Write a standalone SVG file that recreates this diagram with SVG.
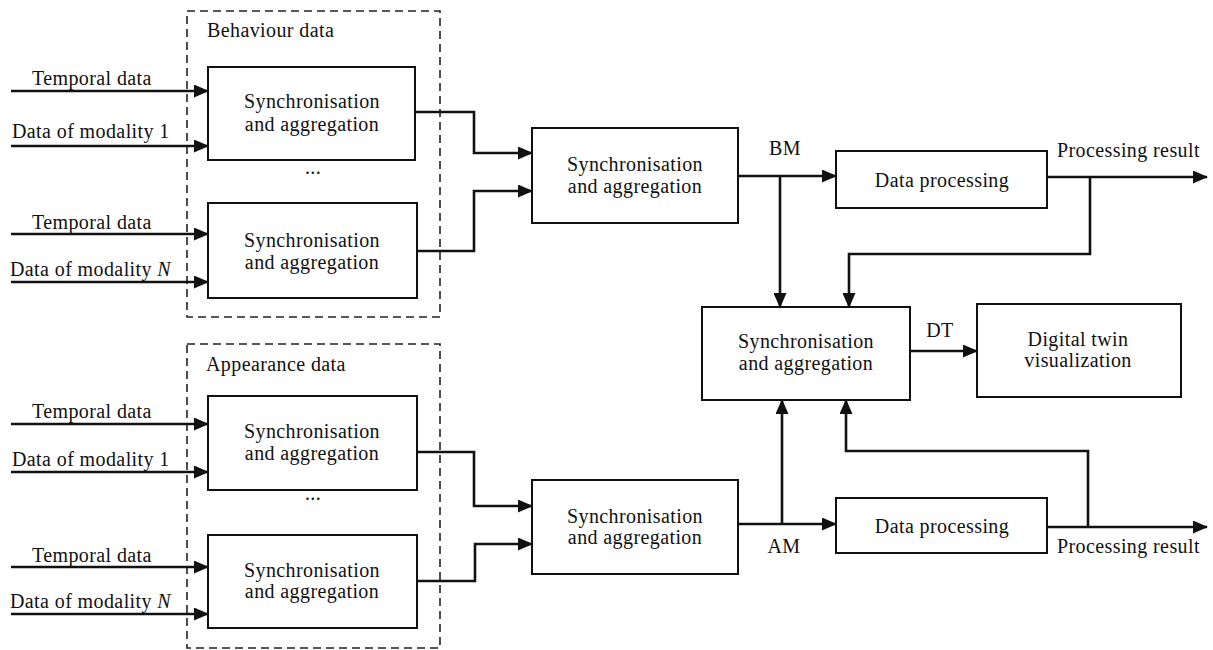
<svg xmlns="http://www.w3.org/2000/svg" width="1213" height="650" viewBox="0 0 1213 650">
<defs>
<style>
text{font-family:"Liberation Serif","Times New Roman",serif;font-size:20px;fill:#111;letter-spacing:0.4px}
.c{text-anchor:middle}
.box{fill:#fff;stroke:#111;stroke-width:2}
.dash{fill:none;stroke:#222;stroke-width:1.6;stroke-dasharray:8 5}
.ln{fill:none;stroke:#111;stroke-width:2.6}
.ar{fill:none;stroke:#111;stroke-width:2.6;marker-end:url(#ah)}
</style>
<marker id="ah" markerUnits="userSpaceOnUse" markerWidth="15" markerHeight="13" refX="14" refY="6.5" orient="auto" viewBox="0 0 15 13">
<path d="M0,0 L15,6.5 L0,13 z" fill="#111"/>
</marker>
</defs>
<rect width="1213" height="650" fill="#fff"/>

<g id="behaviour-group">
<rect class="dash" x="187" y="11" width="253" height="306"/>
<text x="207" y="37">Behaviour data</text>
</g>
<g id="appearance-group">
<rect class="dash" x="187" y="344" width="253" height="304"/>
<text x="206" y="371">Appearance data</text>
</g>

<g id="connectors">
<line class="ar" x1="11" y1="91" x2="208" y2="91"/>
<line class="ar" x1="11" y1="146" x2="208" y2="146"/>
<line class="ar" x1="11" y1="234" x2="208" y2="234"/>
<line class="ar" x1="11" y1="282" x2="208" y2="282"/>
<line class="ar" x1="11" y1="424" x2="208" y2="424"/>
<line class="ar" x1="11" y1="472" x2="208" y2="472"/>
<line class="ar" x1="11" y1="567" x2="208" y2="567"/>
<line class="ar" x1="11" y1="614" x2="208" y2="614"/>
<polyline class="ar" points="415,112 474,112 474,153 532,153"/>
<polyline class="ar" points="417,251 474,251 474,191 532,191"/>
<polyline class="ar" points="417,452 474,452 474,506 532,506"/>
<polyline class="ar" points="417,581 475,581 475,544 532,544"/>
<line class="ar" x1="738" y1="176" x2="836" y2="176"/>
<line class="ar" x1="780" y1="176" x2="780" y2="307"/>
<line class="ar" x1="738" y1="524" x2="836" y2="524"/>
<line class="ar" x1="782" y1="524" x2="782" y2="400"/>
<line class="ar" x1="1047" y1="177" x2="1207" y2="177"/>
<polyline class="ar" points="1090,177 1090,254 849,254 849,307"/>
<line class="ar" x1="1047" y1="527" x2="1207" y2="527"/>
<polyline class="ar" points="1088,527 1088,451 846,451 846,400"/>
<line class="ar" x1="910" y1="351" x2="977" y2="351"/>
</g>

<g id="labels">
<text x="32" y="85">Temporal data</text>
<text x="12" y="138">Data of modality 1</text>
<text x="32" y="229">Temporal data</text>
<text x="10" y="276">Data of modality <tspan font-style="italic">N</tspan></text>
<text x="32" y="418">Temporal data</text>
<text x="12" y="466">Data of modality 1</text>
<text x="32" y="562">Temporal data</text>
<text x="10" y="608">Data of modality <tspan font-style="italic">N</tspan></text>
<text class="c" x="313" y="174">...</text>
<text class="c" x="313" y="500">...</text>
<text class="c" x="785" y="155">BM</text>
<text class="c" x="784" y="553">AM</text>
<text class="c" x="940" y="337">DT</text>
<text x="1057" y="157">Processing result</text>
<text x="1057" y="553">Processing result</text>
</g>

<g id="b1">
<rect class="box" x="208" y="67" width="207" height="93"/>
<text class="c" x="312" y="108">Synchronisation</text>
<text class="c" x="312" y="131">and aggregation</text>
</g>
<g id="b2">
<rect class="box" x="208" y="203" width="209" height="95"/>
<text class="c" x="312" y="247">Synchronisation</text>
<text class="c" x="312" y="269">and aggregation</text>
</g>
<g id="a1">
<rect class="box" x="208" y="396" width="209" height="94"/>
<text class="c" x="312" y="438">Synchronisation</text>
<text class="c" x="312" y="460">and aggregation</text>
</g>
<g id="a2">
<rect class="box" x="208" y="535" width="209" height="93"/>
<text class="c" x="312" y="577">Synchronisation</text>
<text class="c" x="312" y="598">and aggregation</text>
</g>
<g id="bm">
<rect class="box" x="532" y="128" width="206" height="95"/>
<text class="c" x="635" y="171">Synchronisation</text>
<text class="c" x="635" y="193">and aggregation</text>
</g>
<g id="am">
<rect class="box" x="532" y="480" width="206" height="94"/>
<text class="c" x="635" y="523">Synchronisation</text>
<text class="c" x="635" y="544">and aggregation</text>
</g>
<g id="dp1">
<rect class="box" x="836" y="151" width="211" height="57"/>
<text class="c" x="942" y="187">Data processing</text>
</g>
<g id="dp2">
<rect class="box" x="836" y="498" width="211" height="55"/>
<text class="c" x="942" y="533">Data processing</text>
</g>
<g id="dt">
<rect class="box" x="702" y="307" width="208" height="93"/>
<text class="c" x="806" y="348">Synchronisation</text>
<text class="c" x="806" y="370">and aggregation</text>
</g>
<g id="viz">
<rect class="box" x="977" y="304" width="204" height="93"/>
<text class="c" x="1078" y="346">Digital twin</text>
<text class="c" x="1078" y="367">visualization</text>
</g>
</svg>
